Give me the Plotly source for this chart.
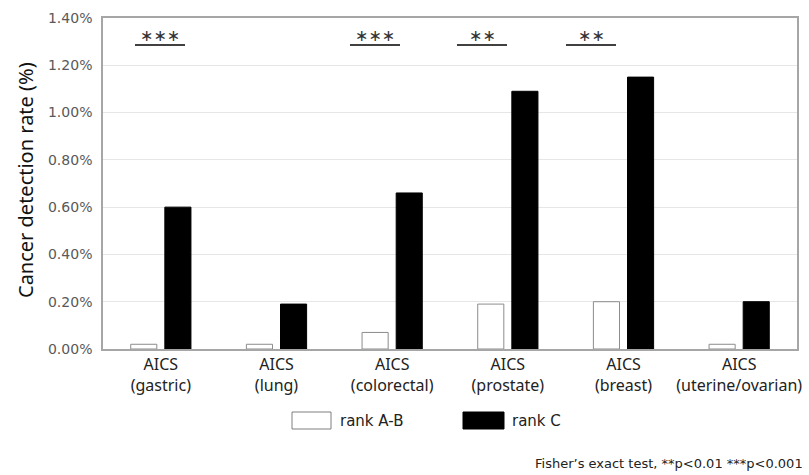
import plotly.graph_objects as go

categories = ["AICS<br>(gastric)", "AICS<br>(lung)", "AICS<br>(colorectal)",
              "AICS<br>(prostate)", "AICS<br>(breast)", "AICS<br>(uterine/ovarian)"]
rank_ab = [0.02, 0.02, 0.07, 0.19, 0.20, 0.02]
rank_c = [0.60, 0.19, 0.66, 1.09, 1.15, 0.20]
y_ticks = [0, 0.2, 0.4, 0.6, 0.8, 1.0, 1.2, 1.4]
y_tick_labels = ["0.00%", "0.20%", "0.40%", "0.60%", "0.80%", "1.00%", "1.20%", "1.40%"]
sig_labels = ["∗∗∗", "∗∗∗", "∗∗", "∗∗"]
sig_px = [160, 375, 482, 591]  # pixel x centers of significance bars

L, R, T, B = 103, 797, 18, 349

def px_x(p):
    return (p - L) / (R - L)

def px_y(p):
    return (B - p) / (B - T)

fig = go.Figure()
fig.add_trace(go.Bar(x=categories, y=rank_ab, name="rank A-B",
                     marker=dict(color="white", line=dict(color="#8c8c8c", width=1))))
fig.add_trace(go.Bar(x=categories, y=rank_c, name="rank C",
                     marker=dict(color="black", line=dict(color="black", width=1))))

fig.update_layout(
    width=809, height=475,
    margin=dict(l=L, r=809 - R, t=T, b=475 - B, autoexpand=False),
    paper_bgcolor="white", plot_bgcolor="white",
    barmode="group", bargap=0.41, bargroupgap=0.235,
    showlegend=False,
    font=dict(family="DejaVu Sans", color="#222"),
)
fig.update_xaxes(showline=True, linecolor="#a6a6a6", linewidth=1.5, mirror=True,
                 ticks="", automargin=False,
                 tickfont=dict(family="Noto Sans", size=16, color="#222"))
fig.update_yaxes(range=[0, 1.4], tickvals=y_ticks, ticktext=y_tick_labels,
                 showgrid=True, gridcolor="#e6e6e6", gridwidth=1,
                 showline=True, linecolor="#a6a6a6", linewidth=1.5, mirror=True,
                 zeroline=False, automargin=False, ticklabelstandoff=6,
                 tickfont=dict(family="DejaVu Sans", size=14, color="#595959"))

fig.add_annotation(xref="paper", yref="paper", x=px_x(25), y=px_y(180),
                   text="Cancer detection rate (%)", textangle=-90, showarrow=False,
                   xanchor="center", yanchor="middle",
                   font=dict(family="Noto Sans", size=20, color="#111"))

# significance marks
for lab, xc in zip(sig_labels, sig_px):
    fig.add_shape(type="line", xref="paper", yref="paper",
                  x0=px_x(xc - 25), x1=px_x(xc + 25), y0=px_y(45), y1=px_y(45),
                  line=dict(color="black", width=1.5))
    fig.add_annotation(xref="paper", yref="paper", x=px_x(xc), y=px_y(35),
                       text=lab, showarrow=False, xanchor="center", yanchor="middle",
                       font=dict(family="DejaVu Sans", size=16, color="#333"))

# manual legend
fig.add_shape(type="rect", xref="paper", yref="paper",
              x0=px_x(292), x1=px_x(331), y0=px_y(429), y1=px_y(412),
              line=dict(color="#7f7f7f", width=1), fillcolor="white")
fig.add_annotation(xref="paper", yref="paper", x=px_x(338), y=px_y(420.5),
                   text="rank A-B", showarrow=False, xanchor="left", yanchor="middle",
                   font=dict(family="DejaVu Sans", size=15, color="#222"))
fig.add_shape(type="rect", xref="paper", yref="paper",
              x0=px_x(463), x1=px_x(504), y0=px_y(429), y1=px_y(412),
              line=dict(color="black", width=1), fillcolor="black")
fig.add_annotation(xref="paper", yref="paper", x=px_x(510), y=px_y(420.5),
                   text="rank C", showarrow=False, xanchor="left", yanchor="middle",
                   font=dict(family="DejaVu Sans", size=15, color="#222"))
fig.add_annotation(xref="paper", yref="paper", x=px_x(805), y=px_y(463),
                   text="Fisher’s exact test, **p<0.01 ***p<0.001", showarrow=False,
                   xanchor="right", yanchor="middle",
                   font=dict(family="DejaVu Sans", size=13, color="#222"))

fig.write_html("out.html", config={"displayModeBar": False},
               post_script="document.body.style.margin='0';")
